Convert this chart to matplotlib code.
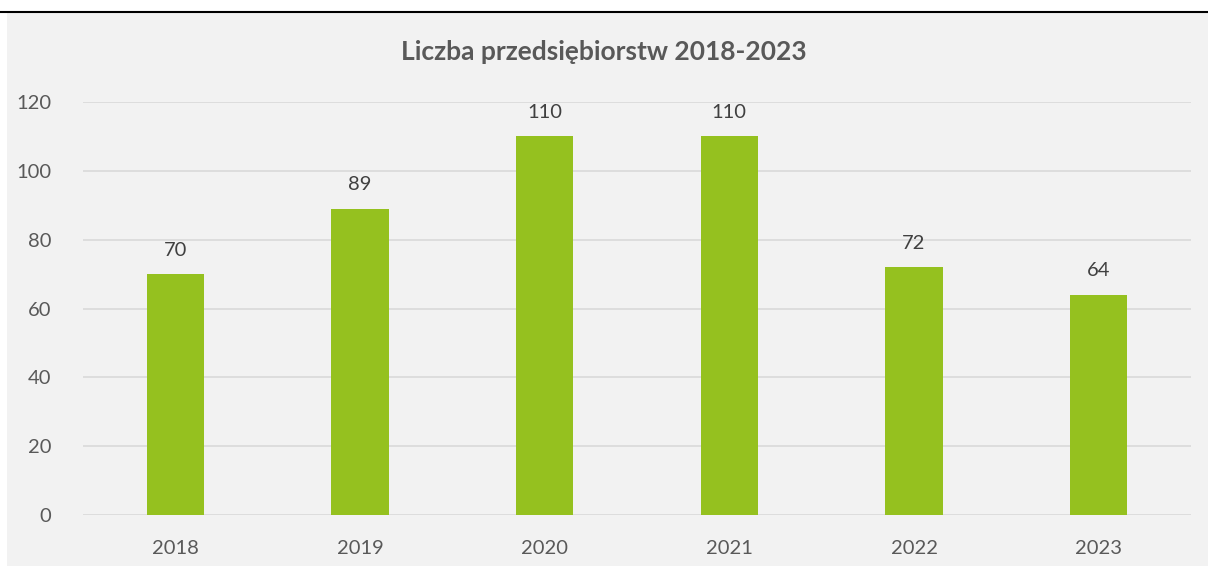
import matplotlib.pyplot as plt
from matplotlib.lines import Line2D
from matplotlib.patches import Rectangle

years = ["2018", "2019", "2020", "2021", "2022", "2023"]
counts = [70, 89, 110, 110, 72, 64]
title = "Liczba przedsiębiorstw 2018-2023"
y_ticks = [0, 20, 40, 60, 80, 100, 120]

W, H = 1208, 567
plt.rcParams["font.family"] = ["Lato", "DejaVu Sans"]
fig = plt.figure(figsize=(W / 100, H / 100), dpi=100)
fig.patch.set_facecolor("white")

# grey chart area and black top rule
fig.patches.append(Rectangle((7 / W, 1 - 566 / H), 1 - 7 / W, (566 - 13) / H,
                             transform=fig.transFigure, facecolor="#f2f2f2",
                             edgecolor="none", zorder=-5))
fig.lines.append(Line2D([0, 1], [1 - 12 / H, 1 - 12 / H], transform=fig.transFigure,
                        color="black", lw=1.5))

ax = fig.add_axes([83 / W, 1 - 515 / H, (1191 - 83) / W, (515 - 102) / H])
ax.set_facecolor("none")
ax.set_zorder(2)

x = range(len(years))
ax.bar(x, counts, width=0.31, color="#95c11f", zorder=3)
for xi, v in zip(x, counts):
    ax.text(xi, v + 4.5, str(v), ha="center", va="bottom", fontsize=14.5, color="#404040")

ax.set_xlim(-0.5, len(years) - 0.5)
ax.set_ylim(0, 120)
ax.set_yticks(y_ticks)
ax.set_xticks(list(x))
ax.set_xticklabels(years)
ax.grid(axis="y", color="#d9d9d9", lw=1.2, zorder=0)
for s in ax.spines.values():
    s.set_visible(False)
ax.tick_params(length=0, labelsize=14.5, labelcolor="#595959")
ax.tick_params(axis="y", pad=23)
ax.tick_params(axis="x", pad=18)

fig.text(0.5, 1 - 52 / H, title, ha="center", va="center", fontsize=19,
         fontweight="bold", color="#595959")

fig.savefig("out.png", dpi=100)
